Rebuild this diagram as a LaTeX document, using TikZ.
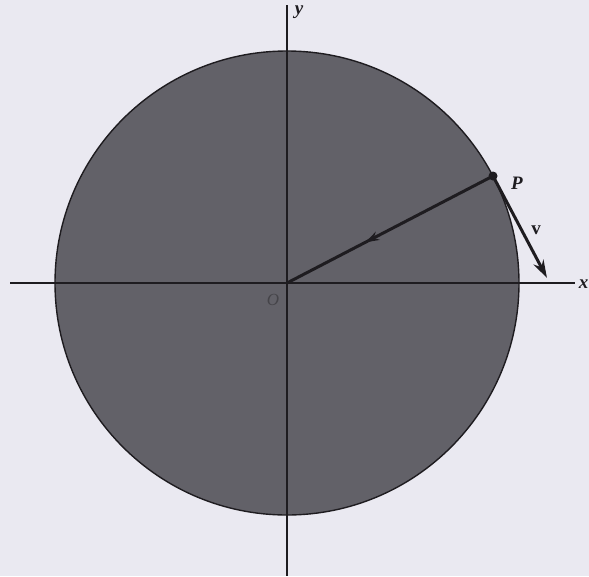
\documentclass[tikz,border=0pt]{standalone}
\usepackage{fontspec}
\setmainfont{Liberation Serif}
\usetikzlibrary{arrows.meta,decorations.markings}
\definecolor{paperbg}  {RGB}{234,233,241}
\definecolor{discgray} {RGB}{98,97,104}
\definecolor{inkdark}  {RGB}{30,28,32}

\begin{document}
\begin{tikzpicture}[
      x=1pt, y=-1pt, >=Stealth,
      axis/.style={line width=1.6pt, color=inkdark},
      vec/.style={->, line width=3pt, color=inkdark, >={Stealth[length=18pt, width=11pt]}},
      lbl/.style={font=\bfseries\itshape\fontsize{19}{19}\selectfont, color=inkdark},
      midarrow/.style={postaction={decorate, decoration={markings,
        mark=at position #1 with {\arrow{Stealth[length=14pt, width=9pt]}}}}},
    ]
    % ── Frame ───────────────────────────────────────────────────
    \useasboundingbox (0,0) rectangle (589,576);
    \fill[paperbg] (0,0) rectangle (589,576);

    % ── Disc ────────────────────────────────────────────────────
    \coordinate (O) at (287,283);
    \fill[discgray, draw=inkdark, line width=1.4pt] (O) circle (232);

    % ── Axes ────────────────────────────────────────────────────
    \coordinate (xl) at (10,283);
    \coordinate (xr) at (575,283);
    \coordinate (yt) at (287,5);
    \coordinate (yb) at (287,576);
    \draw[axis] (xl) -- (xr);
    \draw[axis] (yt) -- (yb);
    \node[lbl] (xlab) at (583.5,284) {x};
    \node[lbl] (ylab) at (299,12) {y};
    \node[lbl, font=\itshape\fontsize{17}{17}\selectfont, color=discgray!70!black] (olab) at (273,300) {O};

    % ── Point P and vectors ─────────────────────────────────────
    \coordinate (P) at (493,176);
    \coordinate (vtip) at (547,278);
    \draw[line width=3pt, color=inkdark, midarrow=0.62] (P) -- (O);
    \fill[inkdark] (P) circle (4.5);
    \draw[vec] (P) -- (vtip);
    \node[lbl] (plab) at (517,183) {P};
    \node[lbl, font=\bfseries\fontsize{19}{19}\selectfont] (vlab) at (536,230) {v};
\end{tikzpicture}
\end{document}
